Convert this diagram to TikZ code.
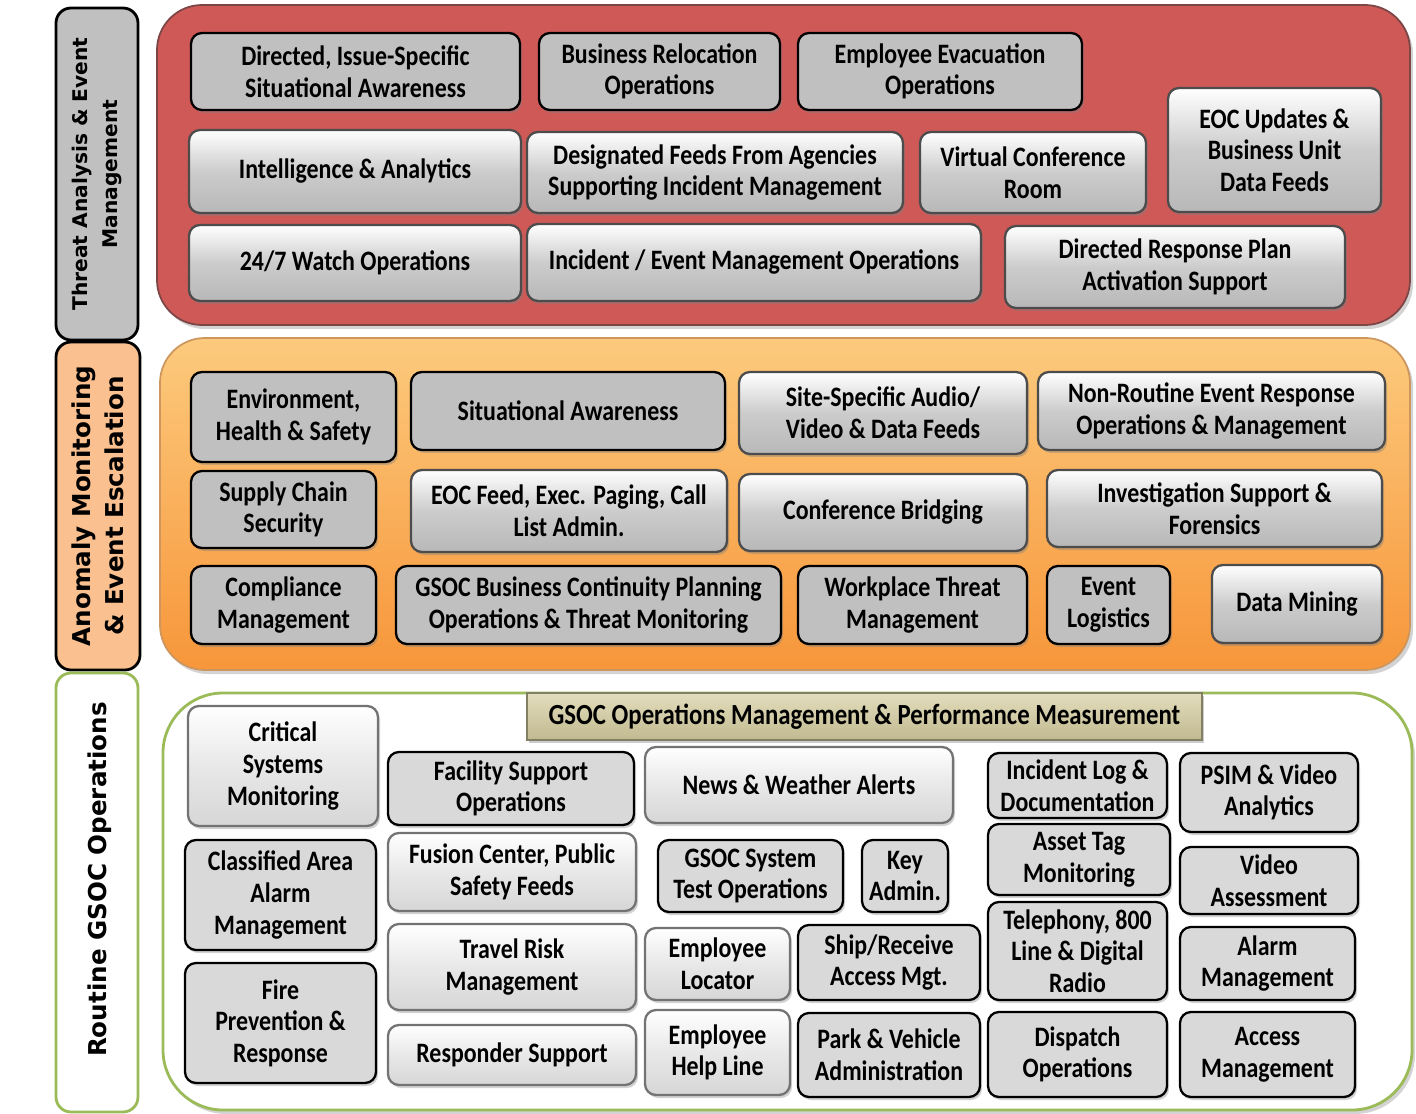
\documentclass[tikz,border=0pt]{standalone}
\usepackage{fontspec}
\usepackage{tikz}
\usetikzlibrary{shapes,positioning,calc,shadows}
\newfontfamily\boxfont{Carlito}[FakeStretch=0.85]
\newfontfamily\sidefont{DejaVu Sans}

\definecolor{bandred}{RGB}{206,89,87}
\definecolor{bandredline}{RGB}{125,70,70}
\definecolor{bandorangetop}{RGB}{252,202,125}
\definecolor{bandorangebot}{RGB}{247,150,58}
\definecolor{bandorangeline}{RGB}{205,150,95}
\definecolor{bandgreen}{RGB}{155,187,89}
\definecolor{sideorange}{RGB}{250,192,143}
\definecolor{boxgray}{RGB}{192,192,192}
\definecolor{boxpale}{RGB}{217,217,217}
\definecolor{khaki}{RGB}{214,206,160}
\definecolor{khakiline}{RGB}{130,128,100}

\tikzset{
  sz/.style 2 args={minimum width=#1*0.02cm, minimum height=#2*0.02cm},
  boxtext/.style={align=center, inner sep=2pt,
    font=\boxfont\bfseries\fontsize{16}{18}\selectfont},
  band/.style={inner sep=0pt, rounded corners=0.9cm,
    drop shadow={shadow xshift=0.6mm, shadow yshift=-0.8mm, opacity=0.35}},
  sidebox/.style={inner sep=0pt, rounded corners=0.3cm, line width=1.6pt},
  sidetext/.style={rotate=90, align=center,
    font=\sidefont\bfseries\fontsize{11.5}{17.5}\selectfont},
  bigside/.style={font=\sidefont\bfseries\fontsize{14}{19}\selectfont},
  darkbox/.style={boxtext, draw=black, line width=1.3pt, fill=boxgray,
    rounded corners=0.22cm,
    drop shadow={shadow xshift=0.4mm, shadow yshift=-0.6mm, opacity=0.4}},
  lightbox/.style={boxtext, draw=black!70, line width=1.3pt,
    top color=white, bottom color=black!28, middle color=black!20,
    rounded corners=0.22cm,
    drop shadow={shadow xshift=0.4mm, shadow yshift=-0.6mm, opacity=0.4}},
  dimbox/.style={boxtext, draw=black, line width=1.3pt, fill=boxpale,
    rounded corners=0.22cm,
    drop shadow={shadow xshift=0.4mm, shadow yshift=-0.6mm, opacity=0.35}},
  palebox/.style={boxtext, draw=black!55, line width=1.3pt,
    top color=white, bottom color=black!16, middle color=black!9,
    rounded corners=0.22cm,
    drop shadow={shadow xshift=0.4mm, shadow yshift=-0.6mm, opacity=0.35}},
  headbox/.style={boxtext, draw=khakiline, line width=1.2pt,
    top color=khaki!70!white, bottom color=khaki!90!black,
    font=\boxfont\bfseries\fontsize{16.6}{18}\selectfont,
    drop shadow={shadow xshift=0.4mm, shadow yshift=-0.6mm, opacity=0.4}}
}

\begin{document}
\begin{tikzpicture}[x=0.02cm, y=-0.02cm]
    \useasboundingbox (0,0) rectangle (1416,1114);

    % side labels
    \node [sidebox, draw=black, fill=boxgray, sz={82}{332}] (ThreatSide) at (97,174) {};
    \node [sidetext] (ThreatLabel) at (ThreatSide.center) {Threat Analysis \& Event\\Management};
    \node [sidebox, draw=black, fill=sideorange, sz={84}{328}] (AnomalySide) at (98,506) {};
    \node [sidetext, bigside] (AnomalyLabel) at (AnomalySide.center) {Anomaly Monitoring\\\& Event Escalation};
    \node [sidebox, draw=bandgreen, fill=white, sz={82}{439}] (RoutineSide) at (97,892.5) {};
    \node [sidetext, bigside] (RoutineLabel) at ([xshift=0.06cm, yshift=0.26cm]RoutineSide.center) {Routine GSOC Operations};

    % bands
    \node [band, draw=bandredline, line width=1pt, fill=bandred, sz={1253}{320}] (ThreatBand) at (783.5,165) {};
    \node [band, draw=bandorangeline, line width=1pt, top color=bandorangetop, bottom color=bandorangebot, sz={1250}{332}] (AnomalyBand) at (785,504) {};
    \node [band, rounded corners=1.2cm, draw=bandgreen, line width=1.6pt, fill=white, sz={1249}{417}] (RoutineBand) at (787.5,901.5) {};

    % threat analysis & event management
    \node [darkbox, sz={329}{77}] (DirSA) at (355.5,71.5) {Directed, Issue-Specific\\Situational Awareness};
    \node [darkbox, sz={241}{77}] (BizReloc) at (659.5,71.5) {Business Relocation\\Operations};
    \node [darkbox, sz={284}{77}] (EmpEvac) at (940,71.5) {Employee Evacuation\\Operations};
    \node [lightbox, sz={332}{83}] (Intel) at (355,171.5) {Intelligence \& Analytics};
    \node [lightbox, sz={376}{81}] (DesFeeds) at (715,172.5) {Designated Feeds From Agencies\\Supporting Incident Management};
    \node [lightbox, sz={226}{81}] (VirtConf) at (1033,172.5) {Virtual Conference\\Room};
    \node [lightbox, sz={213}{124}] (EOCUpd) at (1274.5,150) {EOC Updates \&\\Business Unit\\Data Feeds};
    \node [lightbox, sz={332}{76}] (Watch) at (355,263) {24/7 Watch Operations};
    \node [lightbox, sz={454}{77}] (IncEvent) at (754,262.5) {Incident / Event Management Operations};
    \node [lightbox, sz={340}{82}] (DirResp) at (1175,267) {Directed Response Plan\\Activation Support};

    % anomaly monitoring & event escalation
    \node [darkbox, sz={205}{90}] (EHS) at (293.5,417) {Environment,\\Health \& Safety};
    \node [darkbox, sz={314}{78}] (SitAw) at (568,411) {Situational Awareness};
    \node [lightbox, sz={288}{82}] (SiteAV) at (883,413) {Site-Specific Audio/\\Video \& Data Feeds};
    \node [lightbox, sz={347}{78}] (NonRoutine) at (1211.5,411) {Non-Routine Event Response\\Operations \& Management};
    \node [darkbox, sz={185}{77}] (Supply) at (283.5,509.5) {Supply Chain\\Security};
    \node [lightbox, sz={316}{82}] (EOCFeed) at (569,511) {EOC Feed, Exec. Paging, Call\\List Admin.};
    \node [lightbox, sz={288}{77}] (ConfBr) at (883,512.5) {Conference Bridging};
    \node [lightbox, sz={335}{77}] (Invest) at (1214.5,508.5) {Investigation Support \&\\Forensics};
    \node [darkbox, sz={185}{78}] (Compl) at (283.5,605) {Compliance\\Management};
    \node [darkbox, sz={385}{78}] (BCP) at (588.5,605) {GSOC Business Continuity Planning\\Operations \& Threat Monitoring};
    \node [darkbox, sz={229}{78}] (WPThreat) at (912.5,605) {Workplace Threat\\Management};
    \node [darkbox, sz={123}{78}] (EvLog) at (1108.5,605) {Event\\Logistics};
    \node [lightbox, sz={170}{78}] (DataMin) at (1297,604) {Data Mining};

    % routine gsoc operations
    \node [headbox, sz={675}{47}] (OpsMgmt) at (864.5,716.5) {GSOC Operations Management \& Performance Measurement};
    \node [palebox, sz={190}{120}] (CritSys) at (283,766) {Critical\\Systems\\Monitoring};
    \node [dimbox, sz={191}{110}] (ClassArea) at (280.5,895) {Classified Area\\Alarm\\Management};
    \node [dimbox, sz={191}{120}] (FirePrev) at (280.5,1023) {Fire\\Prevention \&\\Response};
    \node [dimbox, sz={246}{73}] (Facility) at (511,788.5) {Facility Support\\Operations};
    \node [palebox, sz={248}{78}] (Fusion) at (512,872) {Fusion Center, Public\\Safety Feeds};
    \node [palebox, sz={248}{86}] (Travel) at (512,967) {Travel Risk\\Management};
    \node [palebox, sz={248}{60}] (Responder) at (512,1055) {Responder Support};
    \node [palebox, sz={308}{76}] (News) at (799,785) {News \& Weather Alerts};
    \node [dimbox, sz={185}{72}] (GSOCTest) at (750.5,876) {GSOC System\\Test Operations};
    \node [dimbox, sz={86}{72}] (KeyAdmin) at (905,876) {Key\\Admin.};
    \node [palebox, sz={145}{72}] (EmpLoc) at (717.5,964) {Employee\\Locator};
    \node [dimbox, sz={182}{75}] (ShipRecv) at (889,962.5) {Ship/Receive\\Access Mgt.};
    \node [palebox, sz={145}{85}] (HelpLine) at (717.5,1052.5) {Employee\\Help Line};
    \node [dimbox, sz={182}{84}] (ParkVeh) at (889,1055) {Park \& Vehicle\\Administration};
    \node [dimbox, sz={179}{65}] (IncLog) at (1077.5,785.5) {Incident Log \&\\Documentation};
    \node [dimbox, sz={182}{71}] (AssetTag) at (1079,859.5) {Asset Tag\\Monitoring};
    \node [dimbox, sz={179}{98}] (Telephony) at (1077.5,951) {Telephony, 800\\Line \& Digital\\Radio};
    \node [dimbox, sz={179}{85}] (Dispatch) at (1077.5,1054.5) {Dispatch\\Operations};
    \node [dimbox, sz={178}{79}] (PSIM) at (1269,792.5) {PSIM \& Video\\Analytics};
    \node [dimbox, sz={178}{67}] (VideoAss) at (1269,880.5) {Video\\Assessment};
    \node [dimbox, sz={175}{73}] (Alarm) at (1267.5,963.5) {Alarm\\Management};
    \node [dimbox, sz={175}{85}] (Access) at (1267.5,1054.5) {Access\\Management};
\end{tikzpicture}
\end{document}
